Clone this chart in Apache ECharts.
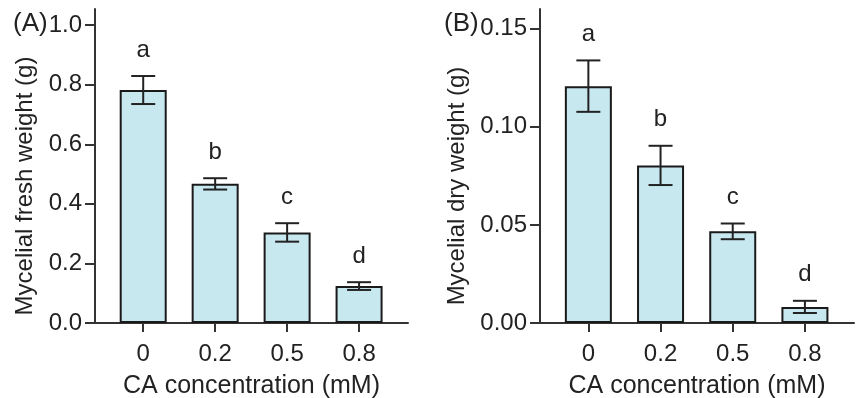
<!DOCTYPE html>
<html>
<head>
<meta charset="utf-8">
<script src="https://cdn.jsdelivr.net/npm/echarts@6/dist/echarts.min.js"></script>
<style>
  html, body { margin: 0; padding: 0; background: #fff; }
  #chart { width: 862px; height: 398px; }
</style>
</head>
<body>
<div id="chart"></div>
<script>
var categories = ['0', '0.2', '0.5', '0.8'];
var letters = ['a', 'b', 'c', 'd'];
var freshMean = [0.782, 0.467, 0.304, 0.124];
var freshErr = [0.047, 0.019, 0.031, 0.013];
var dryMean = [0.1207, 0.0803, 0.0467, 0.0082];
var dryErr = [0.0131, 0.0100, 0.0040, 0.0031];
var freshTicks = [0, 0.2, 0.4, 0.6, 0.8, 1.0];
var dryTicks = [0, 0.05, 0.10, 0.15];
var catIdx = [0, 1, 2, 3];

var font = "'Liberation Sans', Arial, sans-serif";
var ink = '#222';
var axisStyle = { color: '#333', width: 2 };

function xAxisFor(g) {
    return {
        type: 'value',
        gridIndex: g,
        min: -0.67,
        max: 3.68,
        name: 'CA concentration (mM)',
        nameLocation: 'middle',
        nameGap: 51,
        nameTextStyle: { fontFamily: font, fontSize: 25, color: ink },
        axisLine: { show: true, onZero: false, lineStyle: axisStyle },
        axisTick: { show: true, customValues: catIdx, length: 9, lineStyle: axisStyle },
        axisLabel: {
            customValues: catIdx,
            margin: 19,
            fontFamily: font,
            fontSize: 24,
            color: ink,
            formatter: function(v) { return categories[Math.round(v)]; }
        },
        splitLine: { show: false }
    };
}

function yAxisFor(g, max, ticks, digits, title, gap) {
    return {
        type: 'value',
        gridIndex: g,
        min: 0,
        max: max,
        name: title,
        nameLocation: 'middle',
        nameGap: gap,
        // push the rotated title a little below the grid middle
        nameTextStyle: { fontFamily: font, fontSize: 24, color: ink, padding: [0, 40, 0, 0] },
        axisLine: { show: true, onZero: false, lineStyle: axisStyle },
        axisTick: { show: true, customValues: ticks, length: 10, lineStyle: axisStyle },
        axisLabel: {
            customValues: ticks,
            margin: 13,
            fontFamily: font,
            fontSize: 24,
            color: ink,
            formatter: function(v) { return v.toFixed(digits); }
        },
        splitLine: { show: false }
    };
}

function barSeries(g, means) {
    return {
        type: 'bar',
        xAxisIndex: g,
        yAxisIndex: g,
        barWidth: 47,
        data: means.map(function(m, i) { return [i, m]; }),
        itemStyle: { color: '#c8e8f0', borderColor: '#1a1a1a', borderWidth: 2 },
        silent: true
    };
}

function errSeries(g, means, errs) {
    return {
        type: 'custom',
        xAxisIndex: g,
        yAxisIndex: g,
        clip: false,
        z: 5,
        data: means.map(function(m, i) { return [i, m, errs[i]]; }),
        encode: { x: 0, y: 1 },
        renderItem: function(params, api) {
            var x = api.value(0), m = api.value(1), e = api.value(2);
            var hi = api.coord([x, m + e]);
            var lo = api.coord([x, m - e]);
            var w = 12;
            var ls = { stroke: ink, lineWidth: 2 };
            return {
                type: 'group',
                children: [
                    { type: 'line', shape: { x1: hi[0], y1: hi[1], x2: lo[0], y2: lo[1] }, style: ls },
                    { type: 'line', shape: { x1: hi[0] - w, y1: hi[1], x2: hi[0] + w, y2: hi[1] }, style: ls },
                    { type: 'line', shape: { x1: lo[0] - w, y1: lo[1], x2: lo[0] + w, y2: lo[1] }, style: ls },
                    {
                        type: 'text',
                        style: {
                            text: letters[params.dataIndex],
                            x: hi[0],
                            y: hi[1] - 26,
                            align: 'center',
                            verticalAlign: 'middle',
                            fontFamily: font,
                            fontSize: 24,
                            fill: ink
                        }
                    }
                ]
            };
        }
    };
}

var myChart = echarts.init(document.getElementById('chart'));
myChart.setOption({
    backgroundColor: '#fff',
    animation: false,
    title: [
        { text: '(A)', left: 8, top: 6, textStyle: { fontFamily: font, fontSize: 26, fontWeight: 'normal', color: ink } },
        { text: '(B)', left: 439, top: 6, textStyle: { fontFamily: font, fontSize: 26, fontWeight: 'normal', color: ink } }
    ],
    grid: [
        { left: 95, right: 454, top: 9, bottom: 75, outerBoundsMode: 'none' },
        { left: 540, right: 8, top: 9, bottom: 75, outerBoundsMode: 'none' }
    ],
    xAxis: [xAxisFor(0), xAxisFor(1)],
    yAxis: [
        yAxisFor(0, 1.054, freshTicks, 1, 'Mycelial fresh weight (g)', 58),
        yAxisFor(1, 0.16, dryTicks, 2, 'Mycelial dry weight (g)', 71)
    ],
    series: [
        barSeries(0, freshMean),
        errSeries(0, freshMean, freshErr),
        barSeries(1, dryMean),
        errSeries(1, dryMean, dryErr)
    ]
});
</script>
</body>
</html>
